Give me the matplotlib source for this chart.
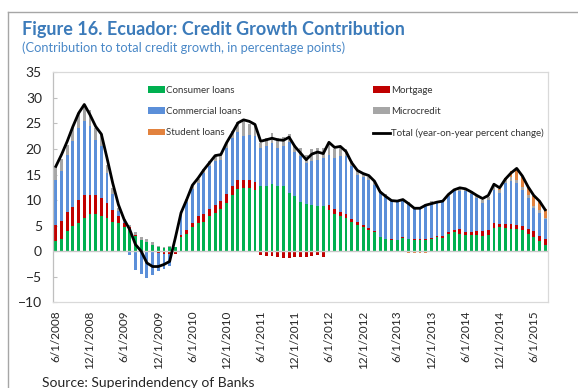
import matplotlib
matplotlib.use("Agg")
import matplotlib.pyplot as plt
from matplotlib.lines import Line2D
import numpy as np

# Monthly observations, June 2008 - August 2015
start_year, start_month = 2008, 6

consumer = [1.9, 2.4, 3.9, 4.9, 5.6, 6.5, 7.3, 7.3, 6.8, 6.4, 5.8, 5.6,
            4.7, 4.2, 2.9, 2.2, 1.8, 1.3, 0.8, 0.6, 0.8, 0.8, 2.7, 3.3,
            4.8, 5.5, 5.8, 6.9, 7.5, 8.3, 9.5, 11.0, 12.2, 12.4, 12.4, 12.0,
            12.7, 12.7, 13.2, 12.8, 12.8, 11.4, 10.7, 9.7, 9.2, 9.0, 8.8, 8.8,
            8.1, 7.3, 6.8, 6.4, 5.8, 5.2, 4.7, 4.2, 3.75, 2.7, 2.4, 2.25,
            2.25, 2.6, 2.4, 2.25, 2.25, 2.25, 2.4, 2.7, 2.6, 3.4, 3.75, 3.4,
            3.2, 3.2, 3.1, 3.05, 3.25, 4.5, 4.7, 4.5, 4.4, 4.3, 4.2, 3.4,
            2.8, 1.9, 1.3]
mortgage = [3.3, 3.5, 3.8, 3.7, 4.5, 4.4, 3.6, 3.6, 3.6, 3.0, 2.3, 1.2,
            0.8, 0.5, 0.3, 0.0, 0.0, -0.2, -0.4, -0.6, -0.6, -0.6, 0.4, 0.9,
            0.8, 1.3, 1.5, 1.4, 1.5, 1.6, 1.6, 1.8, 1.8, 1.6, 1.5, 1.6,
            -0.8, -0.9, -1.0, -1.2, -1.3, -1.3, -1.1, -1.2, -1.2, -0.9, -0.7, -1.1,
            1.0, 1.0, 0.85, 0.8, 0.5, 0.5, 0.4, 0.4, 0.2, 0.1, 0.05, 0.05,
            0.0, 0.15, 0.05, 0.05, 0.05, 0.05, 0.25, 0.2, 0.4, 0.45, 0.45, 0.85,
            0.65, 0.65, 0.8, 0.85, 0.85, 1.0, 0.7, 0.8, 0.85, 0.8, 0.8, 0.9,
            1.1, 1.1, 1.1]
commercial = [8.8, 9.7, 11.2, 12.9, 14.0, 14.5, 13.5, 10.9, 10.1, 5.9, 3.1, 1.0,
              0.3, -0.7, -3.6, -4.4, -5.2, -4.4, -3.4, -2.8, -2.3, 0.0, 4.2, 5.5,
              6.5, 6.5, 8.0, 8.3, 8.6, 8.0, 9.1, 9.3, 9.4, 8.5, 8.9, 8.9,
              7.5, 7.9, 8.0, 7.4, 7.7, 10.0, 8.8, 8.9, 8.1, 8.6, 9.1, 9.4,
              9.8, 9.9, 10.95, 11.4, 10.3, 9.3, 9.5, 9.4, 9.0, 8.6, 8.3, 7.6,
              7.5, 7.2, 7.0, 6.1, 6.1, 6.8, 6.8, 6.5, 6.6, 6.85, 7.5, 7.45,
              7.85, 7.35, 6.5, 5.5, 6.0, 6.5, 5.9, 8.0, 8.5, 8.2, 7.0, 6.1,
              4.5, 4.5, 3.8]
microcredit = [2.4, 2.4, 1.9, 2.6, 2.9, 2.9, 3.3, 2.3, 2.4, 1.6, 1.2, 0.7,
               0.4, 0.5, 0.55, 0.6, 0.6, 0.5, 0.3, 0.3, 0.3, 0.1, 0.4, 0.5,
               0.7, 0.9, 0.7, 1.0, 1.0, 1.0, 0.9, 1.5, 1.8, 2.9, 2.0, 2.3,
               1.0, 1.5, 1.9, 1.9, 1.9, 1.6, 1.3, 1.6, 1.6, 2.3, 2.3, 2.0,
               2.3, 1.8, 1.9, 1.3, 1.0, 0.8, 0.7, 0.6, 0.5, 0.3, 0.4, 0.2,
               0.2, 0.2, 0.2, 0.15, 0.15, 0.2, 0.3, 0.3, 0.3, 0.3, 0.3, 0.6,
               0.5, 0.5, 0.5, 0.6, 0.5, 0.7, 0.6, 0.7, 0.7, 0.7, 0.6, 0.5,
               0.5, 0.6, 0.3]
student = [0.0] * 58 + [-0.2, 0.0, 0.0, 0.0, -0.3, -0.3, -0.35, -0.3, -0.2,
                        0.0, 0.0, 0.0, 0.0, 0.0, 0.0, 0.0, 0.0, 0.0, 0.0,
                        0.3, 0.3, 0.3, 1.3, 1.8, 2.0, 1.7, 1.8, 1.65, 1.75]
total = [16.6, 18.9, 21.5, 24.4, 27.0, 28.7, 26.7, 24.4, 22.9, 18.2, 13.3, 9.1,
         6.2, 4.2, 1.3, 0.0, -2.3, -3.0, -3.0, -2.6, -2.0, 2.6, 7.5, 10.1,
         12.9, 14.3, 15.9, 17.3, 18.7, 18.9, 21.2, 23.1, 25.1, 25.7, 25.4, 24.8,
         21.5, 21.8, 22.1, 21.8, 21.7, 22.3, 20.5, 19.2, 17.9, 19.0, 19.4, 19.1,
         21.3, 20.3, 20.5, 19.5, 17.3, 15.8, 15.2, 14.8, 13.7, 11.6, 10.7, 9.9,
         9.8, 10.1, 9.3, 8.4, 8.4, 9.0, 9.3, 9.6, 9.8, 11.1, 12.0, 12.4,
         12.2, 11.6, 10.9, 10.3, 10.9, 13.1, 12.4, 14.1, 15.3, 16.2, 14.7, 12.6,
         10.9, 9.8, 8.1]

series_names = ["Consumer loans", "Mortgage", "Commercial loans",
                "Microcredit", "Student loans"]
series_values = [consumer, mortgage, commercial, microcredit, student]
series_colors = ["#00B050", "#C00000", "#5B8FD9", "#A6A6A6", "#E2823E"]

tick_every = 6

n = len(total)
x = np.arange(n)
labels = []
for i in x:
    m = start_month - 1 + i
    labels.append(f"{m % 12 + 1}/1/{start_year + m // 12}")

W, H = 578, 388
fig = plt.figure(figsize=(W / 100, H / 100), dpi=100)
ax = fig.add_axes([53 / W, 1 - 302.3 / H, 495 / W, 230 / H])

# Stacked bars: positives pile upward, negatives downward
pos_base = np.zeros(n)
neg_base = np.zeros(n)
handles = {}
for name, vals, col in zip(series_names, series_values, series_colors):
    v = np.asarray(vals, dtype=float)
    bottom = np.where(v >= 0, pos_base, neg_base)
    bc = ax.bar(x, v, width=0.5, bottom=bottom, color=col, linewidth=0, zorder=2)
    handles[name] = bc
    pos_base = pos_base + np.where(v >= 0, v, 0)
    neg_base = neg_base + np.where(v < 0, v, 0)

ax.axhline(0, color="#C8C8C8", lw=1.0, zorder=3)
line, = ax.plot(x, total, color="black", lw=2.0, zorder=4,
                solid_joinstyle="round")

ax.set_xlim(-0.5, n - 0.5)
ax.set_ylim(-10, 35)
ax.set_yticks(range(-10, 36, 5))
ax.set_xticks(x[::tick_every])
ax.set_xticklabels(labels[::tick_every], rotation=90, fontsize=8.5,
                   family="Lato", color="#262626")
for t in ax.get_yticklabels():
    t.set_family("Lato")
    t.set_fontsize(10)
    t.set_color("#262626")
ax.tick_params(axis="x", length=0, pad=6)
ax.tick_params(axis="y", direction="in", length=3, color="#BFBFBF",
               width=0.8, pad=8)
for s in ax.spines.values():
    s.set_color("#D9D9D9")
    s.set_linewidth(0.9)
ax.spines["left"].set_color("#BFBFBF")

leg_kw = dict(loc="upper left", bbox_transform=fig.transFigure, frameon=False,
              prop={"family": "Lato", "size": 7}, handlelength=1.7,
              handleheight=0.65, handletextpad=0.15, labelspacing=1.25,
              borderpad=0, borderaxespad=0, labelcolor="#333333")
leg1 = ax.legend([handles["Consumer loans"], handles["Commercial loans"],
                  handles["Student loans"]],
                 ["Consumer loans", "Commercial loans", "Student loans"],
                 bbox_to_anchor=(148 / W, 1 - 86 / H), **leg_kw)
ax.add_artist(leg1)
ax.legend([handles["Mortgage"], handles["Microcredit"], line],
          ["Mortgage", "Microcredit", "Total (year-on-year percent change)"],
          bbox_to_anchor=(373 / W, 1 - 86 / H), **leg_kw)

fig.text(22 / W, 1 - 30 / H, "Figure 16. Ecuador: Credit Growth Contribution",
         family="Lato", fontweight="bold", fontsize=13, color="#3C7BBA",
         va="center", ha="left")
fig.text(22 / W, 1 - 47.5 / H,
         "(Contribution to total credit growth, in percentage points)",
         family="Lato", fontsize=9.3, color="#4A88C7", va="center", ha="left")
fig.text(42 / W, 1 - 377 / H, "Source: Superindendency of Banks",
         family="Lato", fontsize=10, color="#262626", va="top", ha="left")

# Frame around the exhibit
fig.add_artist(Line2D([8 / W, 1], [1 - 12 / H, 1 - 12 / H],
                      transform=fig.transFigure, color="#A6A6A6", lw=1))
fig.add_artist(Line2D([8 / W, 8 / W], [0, 1 - 12 / H],
                      transform=fig.transFigure, color="#A6A6A6", lw=1))

fig.savefig("out.png", dpi=100)
